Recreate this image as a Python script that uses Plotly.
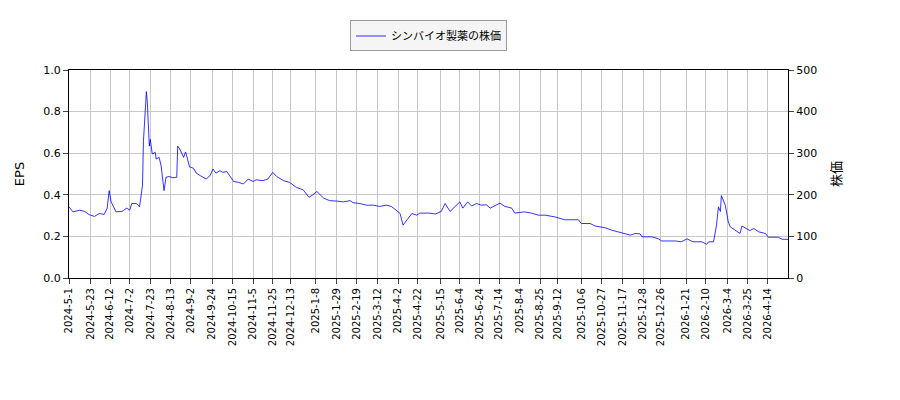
import pandas as pd
import plotly.graph_objects as go

start_date = "2024-05-01"
day_offsets = [0,4,11,16,21,26,31,36,39,41,43,48,54,59,62,64,69,72,75,76,79,80,82,83,85,88,89,92,94,96,97,99,102,106,110,111,113,117,119,121,123,127,130,134,137,140,144,147,150,154,157,161,164,168,173,178,183,188,191,198,203,208,212,219,225,232,239,245,249,253,260,266,273,280,287,290,297,304,311,317,324,329,334,338,341,345,350,355,358,
               367,374,380,384,389,394,399,402,407,411,416,421,426,430,435,440,445,452,455,465,472,479,486,496,506,520,523,532,537,547,554,561,568,573,578,583,585,595,602,605,619,625,631,637,646,651,653,658,661,663,665,666,670,673,675,680,685,687,692,695,699,704,711,714,724,728,734]
prices = [171,159,163,160,152,148,155,153,168,210,183,159,160,168,163,179,179,171,222,329,448,421,317,333,298,302,286,290,270,238,210,242,244,241,242,317,310,290,303,286,267,264,252,246,242,238,246,262,252,258,254,256,246,232,230,226,238,232,236,234,238,254,244,234,230,218,212,194,200,208,192,186,185,183,186,181,179,175,175,172,175,172,163,155,127,139,155,151,156,
          156,154,160,179,160,171,183,168,183,173,179,175,176,168,175,180,172,168,156,159,156,151,151,147,140,140,131,131,125,121,115,111,107,103,107,106,99,99,94,89,89,87,94,87,87,81,87,87,127,171,160,198,175,135,123,115,107,125,119,114,119,111,107,98,98,93,93]
tick_labels = ["2024-5-1","2024-5-23","2024-6-12","2024-7-2","2024-7-23","2024-8-13","2024-9-2","2024-9-24","2024-10-15","2024-11-5","2024-11-25","2024-12-13","2025-1-8","2025-1-29","2025-2-19","2025-3-12","2025-4-2","2025-4-22","2025-5-15","2025-6-4","2025-6-24","2025-7-14","2025-8-4","2025-8-25","2025-9-12","2025-10-6","2025-10-27","2025-11-17","2025-12-8","2025-12-26","2026-1-21","2026-2-10","2026-3-4","2026-3-25","2026-4-14"]

dates = (pd.to_datetime(start_date) + pd.to_timedelta(day_offsets, unit="D")).strftime("%Y-%m-%d").tolist()
tick_vals = pd.to_datetime(tick_labels).strftime("%Y-%m-%d").tolist()

fig = go.Figure()
fig.add_trace(go.Scatter(x=[], y=[], mode="lines", name="EPS",
                         line=dict(color="red", width=1.5)))
fig.add_trace(go.Scatter(x=dates, y=prices, mode="lines", name="シンバイオ製薬の株価",
                         line=dict(color="blue", width=0.8), yaxis="y2"))

font = dict(family="DejaVu Sans, Noto Sans CJK JP", size=11, color="black")
fig.update_layout(
    width=900, height=400, margin=dict(l=61, r=120, t=60, b=130),
    plot_bgcolor="white", paper_bgcolor="white", font=font,
    showlegend=True,
    legend=dict(x=0.5, y=1.238, xanchor="center", yanchor="top",
                bgcolor="#f5f5f5", bordercolor="#999", borderwidth=1,
                font=dict(size=11)),
    xaxis=dict(type="date", range=["2024-05-01", "2026-05-05"],
               tickvals=tick_vals, ticktext=tick_labels, tickangle=-90,
               showgrid=True, gridcolor="#c8c8c8", showline=True, linecolor="black",
               mirror=True, ticks="outside", tickfont=dict(size=10)),
    yaxis=dict(title=dict(text="EPS"), range=[0, 1.0], tickvals=[0,0.2,0.4,0.6,0.8,1.0],
               ticktext=["0.0","0.2","0.4","0.6","0.8","1.0"],
               showgrid=True, gridcolor="#c8c8c8", showline=True, linecolor="black",
               ticks="outside", zeroline=False),
    yaxis2=dict(title=dict(text="株価"), range=[0, 500], overlaying="y", side="right",
                tickvals=[0,100,200,300,400,500], showgrid=False, showline=True,
                linecolor="black", ticks="outside", zeroline=False),
)
fig.write_html("out.html")
